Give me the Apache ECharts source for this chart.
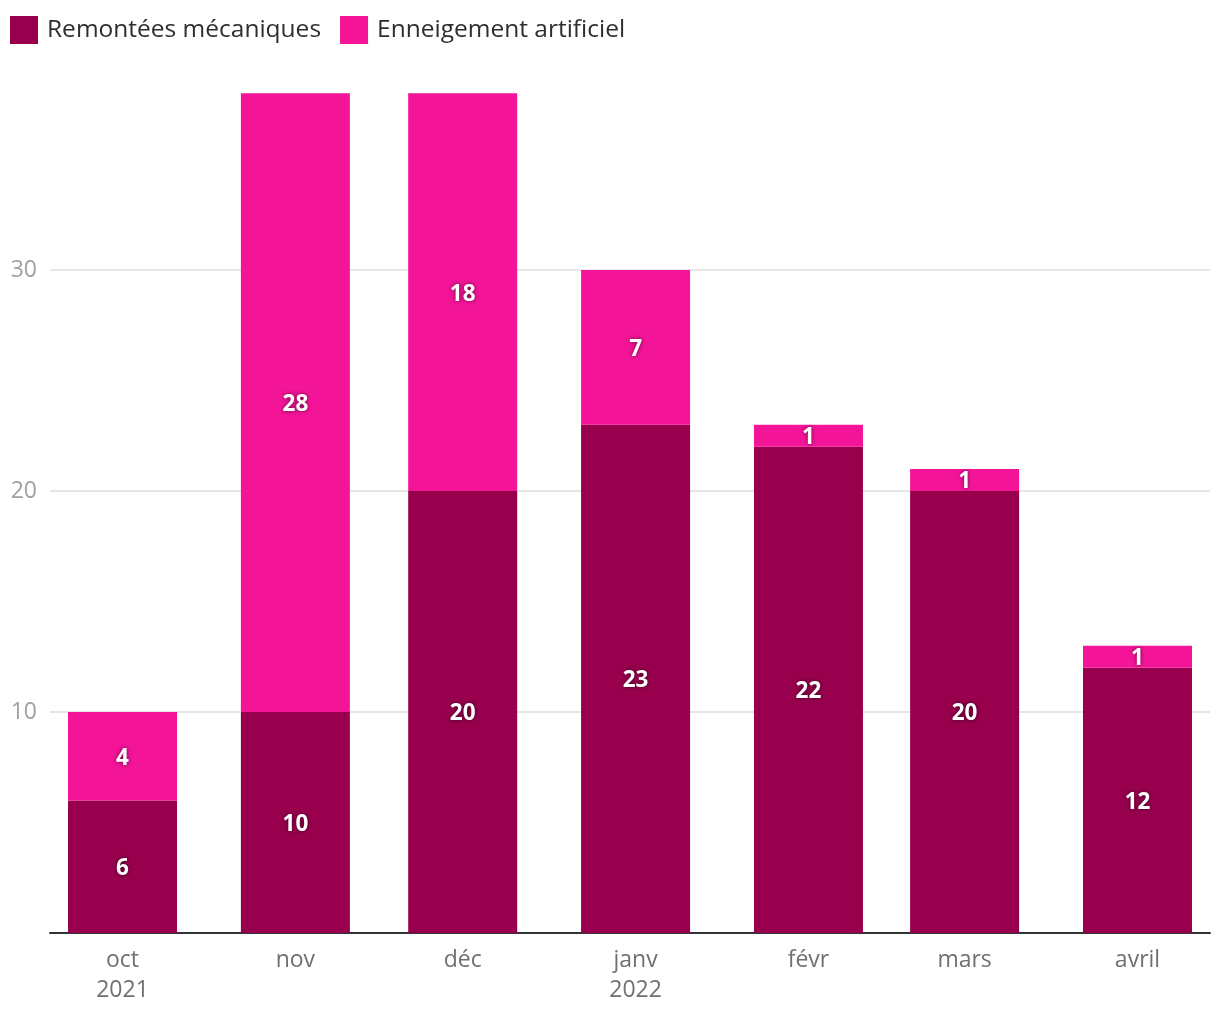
<!DOCTYPE html>
<html>
<head>
<meta charset="utf-8">
<script src="https://cdn.jsdelivr.net/npm/echarts@6/dist/echarts.min.js"></script>
<style>html,body{margin:0;padding:0;background:#fff}#c{width:1220px;height:1020px}</style>
</head>
<body>
<div id="c"></div>
<script>
const months = ['2021-10-01','2021-11-01','2021-12-01','2022-01-01','2022-02-01','2022-03-01','2022-04-01'];
const monthLabels = ['oct\n2021','nov','déc','janv\n2022','févr','mars','avril'];
const remontees = [6, 10, 20, 23, 22, 20, 12];
const enneigement = [4, 28, 18, 7, 1, 1, 1];
const seriesNames = ['Remontées mécaniques', 'Enneigement artificiel'];
const yTicks = [10, 20, 30];

const toTs = s => { const p = s.split('-').map(Number); return Date.UTC(p[0], p[1]-1, p[2]); };
const ts = months.map(toTs);
const xMin = toTs('2021-09-18'), xMax = toTs('2022-04-14');
const FONT = '"Open Sans", "Noto Sans", sans-serif';

const GRID_LEFT = 50, GRID_RIGHT = 10, CHART_W = 1220, BAR_W = 109;
const gridW = CHART_W - GRID_LEFT - GRID_RIGHT;
// ECharts widens a bar axis's extent by the bar width; pre-shrink it so the final extent equals [xMin, xMax]
const fullRange = xMax - xMin;
const shrink = (fullRange - fullRange * (1 - BAR_W / gridW)) / 2;
const barMin = xMin + shrink, barMax = xMax - shrink;

const chart = echarts.init(document.getElementById('c'));
const labelStyle = {
  show: true, position: 'inside', offset: [0, 2], color: '#fff', fontSize: 22.5, fontWeight: 'bold',
  fontFamily: FONT, textShadowColor: 'rgba(0,0,0,0.6)', textShadowBlur: 4
};
chart.setOption({
  animation: false,
  textStyle: { fontFamily: FONT },
  legend: {
    left: 10, top: 16, padding: 0, itemWidth: 28, itemHeight: 28, itemGap: 19, icon: 'rect',
    textStyle: { fontSize: 24.5, color: '#2e2e2e', fontFamily: FONT, padding: [0, 0, 0, 4] },
    data: seriesNames
  },
  grid: { left: GRID_LEFT, right: GRID_RIGHT, top: 49, bottom: 87, containLabel: false },
  xAxis: [{
    type: 'time', position: 'bottom', min: barMin, max: barMax,
    axisLine: { show: true, lineStyle: { color: '#333', width: 2 } },
    axisTick: { show: false }, splitLine: { show: false },
    axisLabel: { show: false }
  }, {
    type: 'value', position: 'bottom', min: xMin, max: xMax,
    axisLine: { show: false }, axisTick: { show: false }, splitLine: { show: false },
    axisLabel: {
      customValues: ts, margin: 12, color: '#707070', fontSize: 23, lineHeight: 30,
      fontFamily: FONT,
      formatter: v => { const i = ts.indexOf(v); return i >= 0 ? monthLabels[i] : ''; }
    }
  }],
  yAxis: {
    type: 'value', min: 0, max: 40, interval: 10,
    axisLine: { show: false }, axisTick: { show: false },
    splitLine: { show: true, showMinLine: false, showMaxLine: false, lineStyle: { color: '#e6e6e6', width: 2 } },
    axisLabel: {
      customValues: yTicks, margin: 13, color: '#a0a0a0', fontSize: 23, fontFamily: FONT
    }
  },
  series: [
    { name: seriesNames[0], type: 'bar', stack: 'a', barWidth: BAR_W, xAxisIndex: 0,
      itemStyle: { color: '#98004E' }, label: labelStyle,
      data: ts.map((t, i) => [t, remontees[i]]) },
    { name: seriesNames[1], type: 'bar', stack: 'a', barWidth: BAR_W, xAxisIndex: 0,
      itemStyle: { color: '#F41498' }, label: labelStyle,
      data: ts.map((t, i) => [t, enneigement[i]]) }
  ]
});
</script>
</body>
</html>
